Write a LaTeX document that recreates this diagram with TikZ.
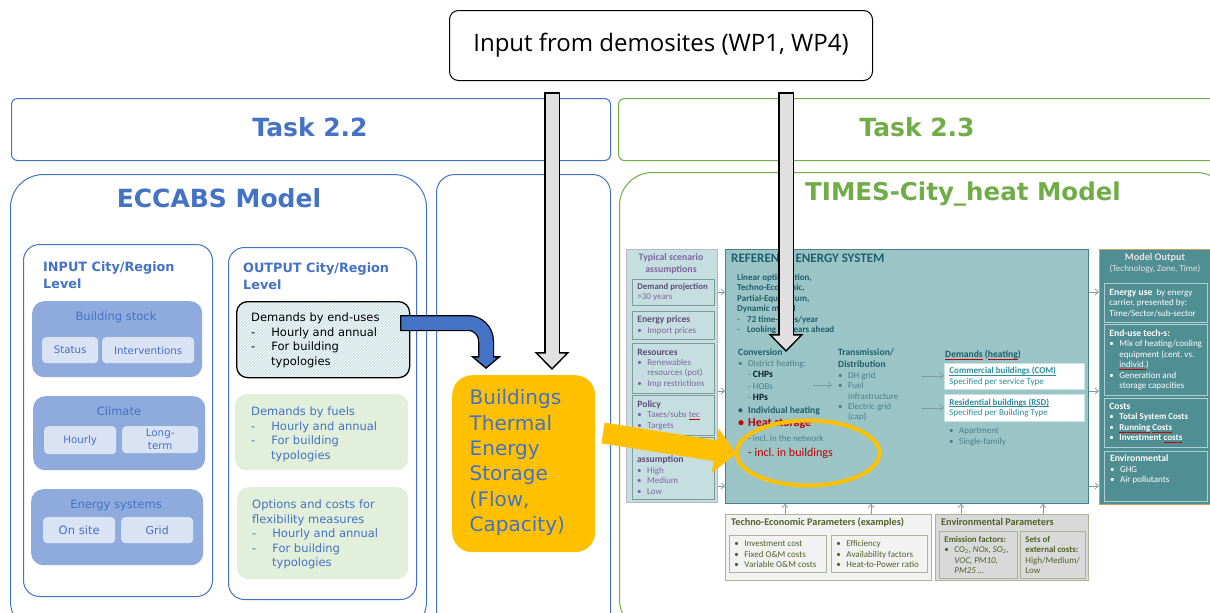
\documentclass[tikz,border=0pt]{standalone}
\usepackage{fontspec}
\setmainfont{Carlito}
\newfontfamily\dejafont{DejaVu Sans}
\newfontfamily\openfont{Open Sans}
\usetikzlibrary{arrows.meta,shapes.geometric,patterns,positioning}
\definecolor{taskblue}{HTML}{4472C4}
\definecolor{taskgreen}{HTML}{70AD47}
\definecolor{stockblue}{HTML}{8FAADC}
\definecolor{paleblue}{HTML}{DAE3F3}
\definecolor{palegreen}{HTML}{E2EFDA}
\definecolor{stoyellow}{HTML}{FFC000}
\definecolor{refteal}{HTML}{9AC4C6}
\definecolor{scenteal}{HTML}{C5DFE0}
\definecolor{outteal}{HTML}{4F8E93}
\definecolor{darkteal}{HTML}{1F5F69}
\definecolor{midteal}{HTML}{4A8088}
\definecolor{linkteal}{HTML}{2B8C9C}
\definecolor{scenpurple}{HTML}{604A7B}
\definecolor{bodypurple}{HTML}{8064A2}
\definecolor{parline}{HTML}{A9B596}
\definecolor{pargreen}{HTML}{4F6228}
\definecolor{arrowgrey}{HTML}{7F9C9C}
% small lists of the inner picture
\newsavebox{\linebox}
\newcommand{\itm}[1]{\par\hangindent=10pt\hangafter=1\noindent\makebox[10pt][l]{\textbullet}#1}
\newcommand{\dsh}[1]{\par\hangindent=10pt\hangafter=1\noindent\makebox[10pt][l]{-}#1}
\newcommand{\cnt}{\\\hspace*{10pt}}
\newcommand{\spl}[1]{\sbox{\linebox}{#1}\usebox{\linebox}\llap{\textcolor{red!75!black}{\rule[-1.8pt]{\wd\linebox}{.4pt}}}}
\newcommand{\und}[1]{\sbox{\linebox}{#1}\usebox{\linebox}\llap{\rule[-1.4pt]{\wd\linebox}{.4pt}}}
\newcommand{\hd}[1]{{\fontsize{9.6}{10.6}\selectfont\bfseries #1}}
\newcommand{\hds}[1]{{\fontsize{8.8}{10.4}\selectfont\bfseries #1}}
\tikzset{
  box/.style 2 args = {anchor=north west, inner xsep=5pt, inner ysep=0pt,
                   minimum width=#1pt, minimum height=#2pt, text width=#1pt-10pt, align=flush left,
                   execute at begin node=\frenchspacing},
  tiny/.style    = {font=\fontsize{9}{10.4}\selectfont},
  txt/.style     = {anchor=north west, inner sep=0pt, align=flush left, tiny,
                   execute at begin node=\frenchspacing},
  frame/.style   = {draw=taskblue, line width=1pt, fill=white},
  task/.style    = {font=\dejafont\bfseries\fontsize{25}{30}\selectfont},
  model/.style   = {font=\dejafont\bfseries\fontsize{25}{30}\selectfont},
  levelhead/.style = {font=\dejafont\bfseries\fontsize{12.8}{16.4}\selectfont, text=taskblue,
                   anchor=north west, inner sep=0pt, align=left},
  group/.style   = {fill=stockblue, rounded corners=12pt},
  chip/.style    = {fill=paleblue, rounded corners=4pt, align=center,
                   font=\dejafont\fontsize{10.3}{12.8}\selectfont, text=taskblue},
  grouptxt/.style= {font=\dejafont\fontsize{11.5}{13}\selectfont, text=taskblue, inner sep=0pt},
  result/.style  = {fill=palegreen, rounded corners=11pt},
  resulttxt/.style= {font=\dejafont\fontsize{11.5}{14.4}\selectfont, anchor=north west,
                   inner sep=0pt, align=left},
  scen/.style    = {draw=arrowgrey, line width=.8pt, fill=scenteal, text=bodypurple, tiny},
  outcell/.style = {draw=refteal!80!white, line width=.8pt, fill=outteal, text=white, tiny},
  parcell/.style = {draw=parline, line width=.9pt, text=pargreen, tiny},
  thin arrow/.style = {-{Straight Barb[length=3.5pt,width=6pt]}, draw=arrowgrey, line width=.7pt},
  blockline/.style = {draw=black, line width=#1pt, line join=miter},
  blockfill/.style = {line width=#1pt, line join=miter}
}
\begin{document}
\begin{tikzpicture}[x=1pt,y=-1pt]
\useasboundingbox (0,0) rectangle (1210,613);
\clip (0,0) rectangle (1210,613);

% top box and the two task bars
\node[draw=black, line width=1pt, rounded corners=9pt, minimum width=423pt, minimum height=70pt,
      anchor=north west, font=\openfont\fontsize{24}{28}\selectfont] (demo) at (449,10) {Input from demosites (WP1, WP4)};
\node[draw=taskblue, line width=1pt, rounded corners=6pt, minimum width=599pt, minimum height=62pt,
      anchor=north west] (task22) at (11,98) {};
\node[task, text=taskblue] (task22txt) at (310,127) {Task 2.2};
\node[draw=taskgreen, line width=1pt, rounded corners=6pt, minimum width=610pt, minimum height=62pt,
      anchor=north west] (task23) at (618,98) {};
\node[task, text=taskgreen] (task23txt) at (917,127) {Task 2.3};

% the big frames, running off the page
\node[frame, rounded corners=33pt, minimum width=416pt, minimum height=460pt, anchor=north west] (eccabs) at (10,174) {};
\node[model, text=taskblue] (eccabstxt) at (219,198) {ECCABS Model};
\node[frame, rounded corners=18pt, minimum width=174pt, minimum height=460pt, anchor=north west] (mid) at (436,174) {};
\node[frame, draw=taskgreen, rounded corners=33pt, minimum width=610pt, minimum height=460pt, anchor=north west] (times) at (619,172) {};
\node[model, text=taskgreen, font=\dejafont\bfseries\fontsize{24.5}{30}\selectfont] (timestxt) at (963,194) {TIMES-City\_heat Model};

% ECCABS input side
\node[frame, rounded corners=16pt, minimum width=189pt, minimum height=352pt, anchor=north west] (input) at (23,244) {};
\node[levelhead] (inputtxt) at (43,262) {INPUT City/Region\\Level};
\node[group, box={170}{76}] (stock) at (32,301) {};
\node[grouptxt] (stocktxt) at (116,317) {Building stock};
\node[box={56}{26}, chip] (status) at (42,337) {Status};
\node[box={92}{26}, chip] (interv) at (102,337) {Interventions};
\node[group, box={172}{74}] (climate) at (33,396) {};
\node[grouptxt] (climatetxt) at (119,411) {Climate};
\node[box={72}{28}, chip] (hourly) at (44,426) {Hourly};
\node[box={76}{27}, chip] (longterm) at (122,426) {Long-\\term};
\node[group, box={172}{76}] (energy) at (31,489) {};
\node[grouptxt] (energytxt) at (116,505) {Energy systems};
\node[box={72}{26}, chip, font=\dejafont\fontsize{11.5}{13}\selectfont] (onsite) at (43,517) {On site};
\node[box={72}{26}, chip, font=\dejafont\fontsize{11}{13}\selectfont] (grid) at (121,517) {Grid};

% ECCABS output side
\node[frame, rounded corners=16pt, minimum width=188pt, minimum height=352pt, anchor=north west] (output) at (228,247) {};
\node[levelhead] (outputtxt) at (243,263) {OUTPUT City/Region\\Level};
\node[box={173}{76}, draw=black, line width=1.3pt, rounded corners=11pt, preaction={fill=scenteal!85!white},
      preaction={pattern=north east lines, pattern color=white}] (enduse) at (236,301) {};
\node[resulttxt] (endusetxt) at (251,313) {Demands by end-uses\\-\hspace{16pt}Hourly and annual\\-\hspace{16pt}For building\\\hspace{20pt}typologies};
\node[result, box={173}{76}] (fuels) at (235,394) {};
\node[resulttxt, text=taskblue] (fuelstxt) at (251,407) {Demands by fuels\\-\hspace{16pt}Hourly and annual\\-\hspace{16pt}For building\\\hspace{20pt}typologies};
\node[result, box={171}{92}] (options) at (237,487) {};
\node[resulttxt, text=taskblue] (optionstxt) at (252,500) {Options and costs for\\flexibility measures\\-\hspace{16pt}Hourly and annual\\-\hspace{16pt}For building\\\hspace{20pt}typologies};

% storage box
\node[box={143}{177}, fill=stoyellow, rounded corners=20pt] (storage) at (452,375) {};
\node[resulttxt, font=\dejafont\fontsize{20}{25.3}\selectfont, text=taskblue] (storagetxt) at (469.5,389.5)
      {Buildings\\Thermal\\Energy\\Storage\\(Flow,\\Capacity)};

% TIMES picture, left panel
\node[box={91}{253}, draw=bodypurple!50!white, line width=1pt, fill=scenteal] (typical) at (626,249) {};
\node[font=\fontsize{9.8}{12}\selectfont\bfseries, text=bodypurple, align=center, inner sep=0pt] (typicaltxt) at (671,264) {Typical scenario\\assumptions};
\node[scen, box={82}{26}] (demand) at (632,279) {\textcolor{scenpurple}{\mbox{\hds{Demand projection}}}\\>30 years};
\node[scen, box={82}{28}] (prices) at (632,311) {\textcolor{scenpurple}{\hd{Energy prices}}\itm{Import prices}};
\node[scen, box={82}{50}] (resources) at (632,343) {\textcolor{scenpurple}{\hd{Resources}}\itm{Renewables\cnt resources (pot)}\itm{Imp restrictions}};
\node[scen, box={82}{40}] (policy) at (632,395) {\textcolor{scenpurple}{\hd{Policy}}\itm{Taxes/subs \spl{tec}}\itm{Targets}};
\node[scen, box={82}{62}] (growth) at (632,437) {};
\node[txt, text width=76pt, text=bodypurple] (growthtxt) at (637,456) {\textcolor{scenpurple}{\hd{assumption}}\itm{High}\itm{Medium}\itm{Low}};

% TIMES picture, reference system
\node[box={363}{254}, draw=midteal, line width=.8pt, fill=refteal] (refsys) at (725,249) {};
\node[txt, font=\fontsize{13}{15}\selectfont\bfseries, text=darkteal] (reftxt) at (731,254) {REFERENCE ENERGY SYSTEM};
\node[txt, text width=120pt, text=darkteal] (lineartxt) at (737,274) {\textbf{Linear optimization,\\Techno-Economic,\\Partial-Equilibrium,\\Dynamic model}\dsh{\textbf{72 time-slices/year}}\dsh{\textbf{Looking 30 years ahead}}};
\node[txt, text width=95pt, text=midteal] (convtxt) at (738,349) {\textcolor{darkteal}{\hd{Conversion}}\itm{District heating:}\\[1pt]
  \hspace*{10pt}- \textcolor{black!70!darkteal}{\hd{CHPs}}\\[1pt]\hspace*{10pt}- HOBs\\[1pt]\hspace*{10pt}- \textcolor{black!70!darkteal}{\hd{HPs}}};
\node[txt, text width=95pt, text=darkteal] (indivtxt) at (738,407) {\hd{\makebox[10pt][l]{\textbullet}Individual heating}};
\node[txt, text width=95pt, text=red!75!black, font=\fontsize{12}{14}\selectfont\bfseries] (heattxt) at (738,419) {\makebox[10pt][l]{\textbullet}Heat storage};
\node[txt, text width=95pt, text=midteal] (nettxt) at (748,435) {- incl. in the network};
\node[txt, text width=100pt, text=red!75!black, font=\fontsize{12}{13}\selectfont] (bldtxt) at (748,448) {- incl. in buildings};
\node[txt, text width=72pt, text=midteal] (transtxt) at (838,349) {\textcolor{darkteal}{\hd{Transmission/\\[1.5pt]Distribution}}\itm{DH grid}\itm{Fuel\cnt infrastructure}\itm{Electric grid\cnt (cap)}};
\node[txt, text=darkteal] (demandstxt) at (945,350) {\hd{\spl{Demands} (\spl{heating})}};
\node[box={140}{26}, draw=refteal!50!white, fill=white, text=linkteal, tiny, line width=.8pt] (com) at (944,363) {\textbf{\und{Commercial buildings (COM)}}\\Specified per service Type};
\node[box={140}{27}, draw=refteal!50!white, fill=white, text=linkteal, tiny, line width=.8pt] (rsd) at (944,394) {\textbf{\und{Residential buildings (RSD)}}\\Specified per Building Type};
\node[txt, text width=80pt, text=midteal] (housetxt) at (949,423) {\itm{Apartment}\itm{Single-family}};

% TIMES picture, model output
\node[box={120}{255}, draw=parline!60!orange, line width=1pt, fill=outteal] (modelout) at (1099,249) {};
\node[font=\fontsize{9}{11}\selectfont, text=white!90!black, align=center, inner sep=0pt] (modeltxt) at (1155,263) {{\fontsize{10.2}{11}\selectfont\bfseries Model Output}\\(Technology, Zone, Time)};
\node[outcell, box={103}{39}] (useout) at (1104,283) {\hd{Energy use} \ by energy\\carrier, presented by:\\Time/Sector/sub-sector};
\node[outcell, box={103}{71}] (techout) at (1104,324) {\hd{End-use tech-s:}\itm{Mix of heating/cooling\cnt equipment (cent. vs.\cnt \spl{individ.})}\itm{Generation and\cnt storage capacities}};
\node[outcell, box={103}{49}] (costout) at (1104,398) {\hd{Costs}\itm{\textbf{Total System Costs}}\itm{\textbf{\spl{Running} \spl{Costs}}}\itm{\textbf{Investment \spl{costs}}}};
\node[outcell, box={103}{50}] (envout) at (1104,451) {};
\node[txt, text width=95pt, text=white] (envtxt) at (1110,455) {\hd{Environmental}\itm{GHG}\itm{Air pollutants}};

% TIMES picture, parameters
\node[box={206}{66}, parcell, fill=black!5] (techno) at (725,514) {};
\node[txt, text=pargreen, font=\fontsize{10.2}{12}\selectfont\bfseries] (technotxt) at (731,518) {Techno-Economic Parameters (examples)};
\node[box={97}{37}, parcell] (costbox) at (729,535) {\itm{Investment cost}\itm{Fixed O\&M costs}\itm{Variable O\&M costs}\par\vspace{4pt}};
\node[box={96}{37}, parcell] (effbox) at (831,535) {\itm{Efficiency}\itm{Availability factors}\itm{Heat-to-Power ratio}\par\vspace{4pt}};
\node[box={153}{66}, parcell, fill=black!15] (envpar) at (935,514) {};
\node[txt, text=pargreen, font=\fontsize{10.2}{12}\selectfont\bfseries] (envpartxt) at (941,518) {Environmental Parameters};
\node[box={78}{47}, parcell] (emission) at (939,531) {\hds{Emission factors:}\itm{CO\textsubscript{2}, \textit{NOx, SO\textsubscript{2},\cnt VOC, PM10,\cnt PM25 \dots}}};
\node[box={65}{47}, parcell] (sets) at (1020,531) {\hds{Sets of\\\mbox{external costs:}}\\High/Medium/\\Low};

% small arrows of the picture
\foreach \yy in {292,391,486}
  \draw[thin arrow] (typical.east |- 0,\yy) -- (refsys.west |- 0,\yy);
\foreach \yy in {292,391,486}
  \draw[thin arrow] (refsys.east |- 0,\yy) -- (modelout.west |- 0,\yy);
\foreach \xx in {785,871}
  \draw[thin arrow] (techno.north -| \xx,0) -- (refsys.south -| \xx,0);
\foreach \xx in {961,1043}
  \draw[thin arrow] (envpar.north -| \xx,0) -- (refsys.south -| \xx,0);
\coordinate (convend) at (813,385);
\coordinate (transin) at (832,385);
\draw[thin arrow] (convend) -- (transin);
\coordinate (comfrom) at (922,376);
\coordinate (rsdfrom) at (922,408);
\draw[thin arrow] (comfrom) -- (com.west |- comfrom);
\draw[thin arrow] (rsdfrom) -- (rsd.west |- rsdfrom);

% yellow ring and the block arrows on top
\node[ellipse, draw=stoyellow, line width=4pt, minimum width=143pt, minimum height=65pt, inner sep=0pt] (ring) at (808,453) {};
\coordinate (yellowfrom) at (603,433);
\coordinate (yellowto) at (736,454);
\draw[draw=stoyellow, line width=21pt, -{Triangle[length=21pt,width=44pt]}] (yellowfrom) -- (yellowto);

\coordinate (greyfrom) at (552,92);
\coordinate (greyto) at (552,370);
\draw[blockline=16, -{Triangle[length=18pt,width=34pt]}] (greyfrom) -- (greyto);
\draw[blockfill=13, draw=black!12, shorten <=1.5pt, shorten >=2.2pt, -{Triangle[length=14.3pt,width=27pt]}] (greyfrom) -- (greyto);
\coordinate (redfrom) at (786,92);
\coordinate (redto) at (786,352);
\draw[blockline=16, -{Triangle[length=18pt,width=34pt]}] (redfrom) -- (redto);
\draw[blockfill=13, draw=black!12, shorten <=1.5pt, shorten >=2.2pt, -{Triangle[length=14.3pt,width=27pt]}] (redfrom) -- (redto);

\coordinate (bluefrom) at (400,323);
\coordinate (blueto) at (486,369);
\draw[blockline=16, rounded corners=18pt, -{Triangle[length=13pt,width=30pt]}] (bluefrom) -- (486,323) -- (blueto);
\draw[blockfill=13.5, draw=taskblue, rounded corners=18pt, shorten <=1.3pt, shorten >=2pt, -{Triangle[length=9.5pt,width=22pt]}] (bluefrom) -- (486,323) -- (blueto);
\end{tikzpicture}
\end{document}
